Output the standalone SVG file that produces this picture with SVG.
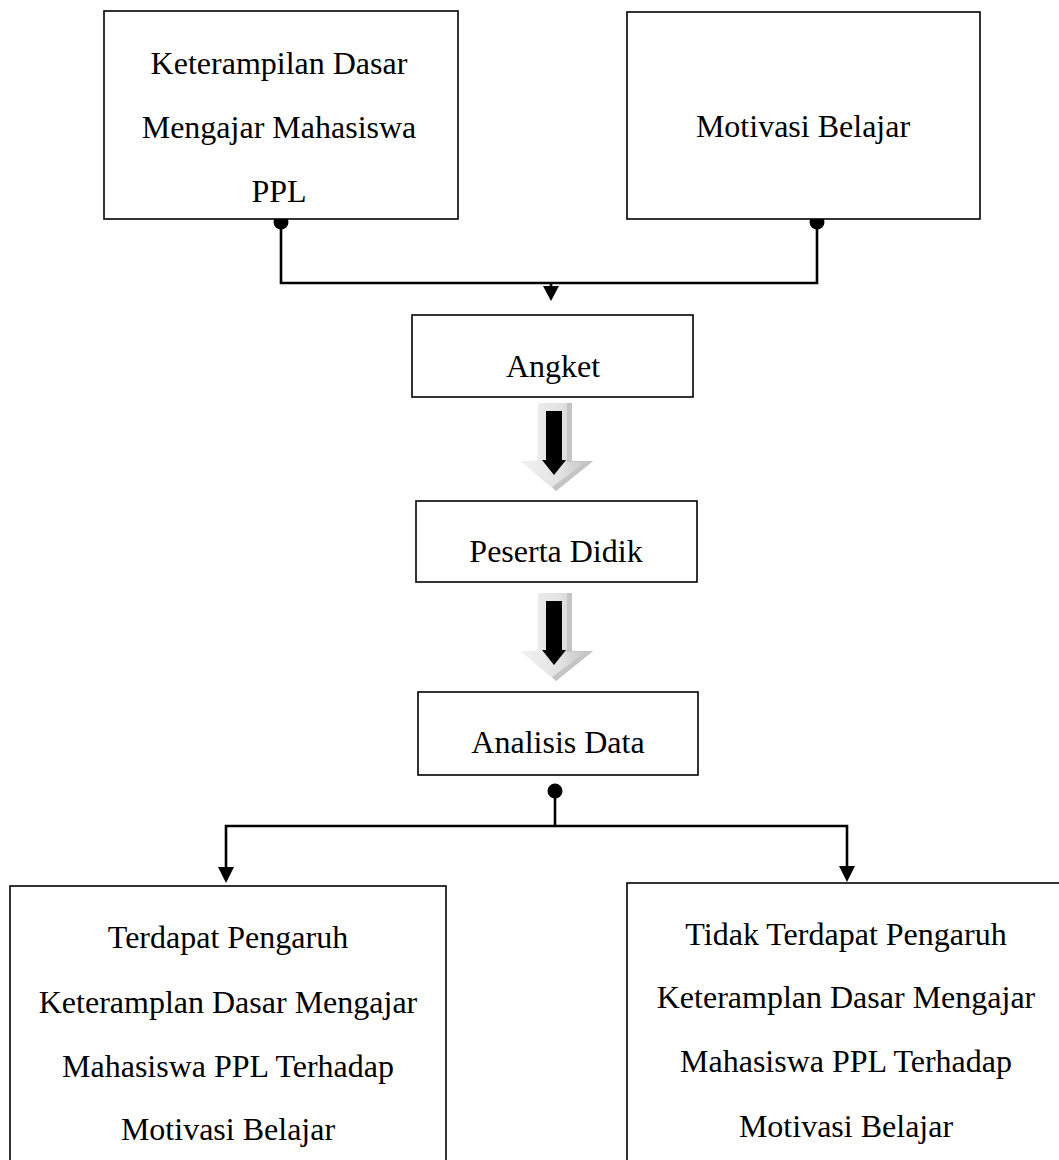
<svg xmlns="http://www.w3.org/2000/svg" xmlns:xlink="http://www.w3.org/1999/xlink" width="1059" height="1160" viewBox="0 0 1059 1160">
<style>
.box{fill:#fff;stroke:#000;stroke-width:1.6}
.t{font-family:"Liberation Serif","Times New Roman",serif;font-size:32px;fill:#000;text-anchor:middle}
.c{fill:none;stroke:#000;stroke-width:2.6}
.dot{fill:#000}
.ah{fill:#000}
</style>
<defs>
<linearGradient id="g3d" x1="0" y1="0" x2="1" y2="0">
<stop offset="0" stop-color="#f2f2f2"/>
<stop offset="0.55" stop-color="#e2e2e2"/>
<stop offset="1" stop-color="#bfbfbf"/>
</linearGradient>
<g id="blockArrow">
<polygon points="538,403 572,403 572,461 593,461 556,491 520,461 538,461" fill="url(#g3d)"/>
<polygon points="567,403 572,403 572,461 593,461 556,491 552,487 586,462 567,462" fill="#c4c4c4"/>
<polygon points="546,411 562,411 562,460 566,460 554,475 542,460 546,460" fill="#000"/>
</g>
</defs>
<rect width="1059" height="1160" fill="#fff"/>
<g id="connectors">
<polyline class="c" points="281,222 281,283 817,283 817,222"/>
<line class="c" x1="551" y1="283" x2="551" y2="290"/>
<polygon class="ah" points="543,286 559,286 551,301"/>
<use xlink:href="#blockArrow"/>
<use xlink:href="#blockArrow" transform="translate(0,190)"/>
<line class="c" x1="555" y1="791" x2="555" y2="826"/>
<polyline class="c" points="226,870 226,826 847,826 847,868"/>
<polygon class="ah" points="218,867 234,867 226,883"/>
<polygon class="ah" points="839,866 855,866 847,882"/>
<circle class="dot" cx="281" cy="222" r="7.5"/>
<circle class="dot" cx="817" cy="222" r="7.5"/>
<circle class="dot" cx="555" cy="791" r="7.5"/>
</g>
<g id="node-keterampilan">
<rect class="box" x="104" y="11" width="354" height="208"/>
<text class="t" x="279" y="74">Keterampilan Dasar</text>
<text class="t" x="279" y="138">Mengajar Mahasiswa</text>
<text class="t" x="279" y="202">PPL</text>
</g>
<g id="node-motivasi">
<rect class="box" x="627" y="12" width="353" height="207"/>
<text class="t" x="803" y="137">Motivasi Belajar</text>
</g>
<g id="node-angket">
<rect class="box" x="412" y="315" width="281" height="82"/>
<text class="t" x="553" y="377">Angket</text>
</g>
<g id="node-peserta">
<rect class="box" x="416" y="501" width="281" height="81"/>
<text class="t" x="556" y="562">Peserta Didik</text>
</g>
<g id="node-analisis">
<rect class="box" x="418" y="692" width="280" height="83"/>
<text class="t" x="558" y="753">Analisis Data</text>
</g>
<g id="node-terdapat">
<rect class="box" x="10" y="886" width="436" height="300"/>
<text class="t" x="228" y="948">Terdapat Pengaruh</text>
<text class="t" x="228" y="1013">Keteramplan Dasar Mengajar</text>
<text class="t" x="228" y="1077">Mahasiswa PPL Terhadap</text>
<text class="t" x="228" y="1140">Motivasi Belajar</text>
</g>
<g id="node-tidak">
<rect class="box" x="627" y="883" width="460" height="300"/>
<text class="t" x="846" y="945">Tidak Terdapat Pengaruh</text>
<text class="t" x="846" y="1008">Keteramplan Dasar Mengajar</text>
<text class="t" x="846" y="1072">Mahasiswa PPL Terhadap</text>
<text class="t" x="846" y="1137">Motivasi Belajar</text>
</g>
</svg>
